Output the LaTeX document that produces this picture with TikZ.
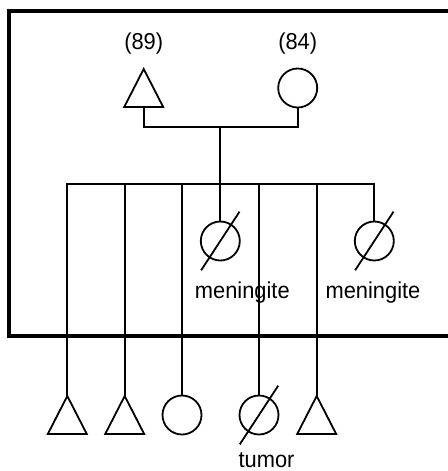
\documentclass[tikz,border=0pt]{standalone}
\usepackage{fontspec}
\setmainfont{Liberation Sans}
\newfontfamily\lblfont[FakeStretch=0.95]{Liberation Sans}
\newcommand\pedtri[1]{\draw[line join=miter] (#1.south west) -- (#1.north) -- (#1.south east) -- cycle;}
\newcommand\pedslash[1]{\draw (#1.center) ++(-19.2,29.3) -- ++(38.4,-58.6);}
\begin{document}
\begin{tikzpicture}[x=0.75pt,y=-0.75pt,
  line width=1.35pt,
  lbl/.style={font=\lblfont\fontsize{17.25pt}{20pt}\selectfont, inner sep=0, anchor=base},
  male/.style={inner sep=0, outer sep=0, minimum width=29.25pt, minimum height=28.5pt},
  female/.style={circle, draw, inner sep=0, minimum size=29.25pt},
  frame/.style={line width=3pt, line join=miter}]
\useasboundingbox (0,0) rectangle (448,471);
% frame
\draw[frame] (448,336) -- (9.2,336) -- (9.2,11.3) -- (448,11.3);
% parents
\node[male] (F) at (143.7,88) {};
\node[female] (M) at (297.7,88) {};
\pedtri{F}
\node[lbl] (l89) at (143.7,49) {(89)};
\node[lbl] (l84) at (297.7,49) {(84)};
% children
\node[male] (c1) at (67.3,415) {};
\node[male] (c2) at (124.7,415) {};
\node[female] (c3) at (182,415) {};
\node[female] (c4) at (220.3,241) {};
\node[female] (c5) at (259,415) {};
\node[male] (c7) at (316.7,415) {};
\node[female] (c6) at (374.3,241) {};
\pedtri{c1}
\pedtri{c2}
\pedtri{c7}
\pedslash{c4}
\pedslash{c5}
\pedslash{c6}
% connectors
\coordinate (mar) at (220.3,126.7);
\coordinate (sib) at (220.3,184);
\draw (F.south) |- (mar) -| (M.south);
\draw (mar) -- (c4.north);
\draw (c1.north) |- (sib) -| (c6.north);
\draw (c2.north) -- (c2.north |- sib);
\draw (c3.north) -- (c3.north |- sib);
\draw (c5.north) -- (c5.north |- sib);
\draw (c7.north) -- (c7.north |- sib);
% labels
\node[lbl] (m1) at (242.3,298) {meningite};
\node[lbl] (m2) at (373,298) {meningite};
\node[lbl] (tu) at (266.5,467) {tumor};
\end{tikzpicture}
\end{document}
